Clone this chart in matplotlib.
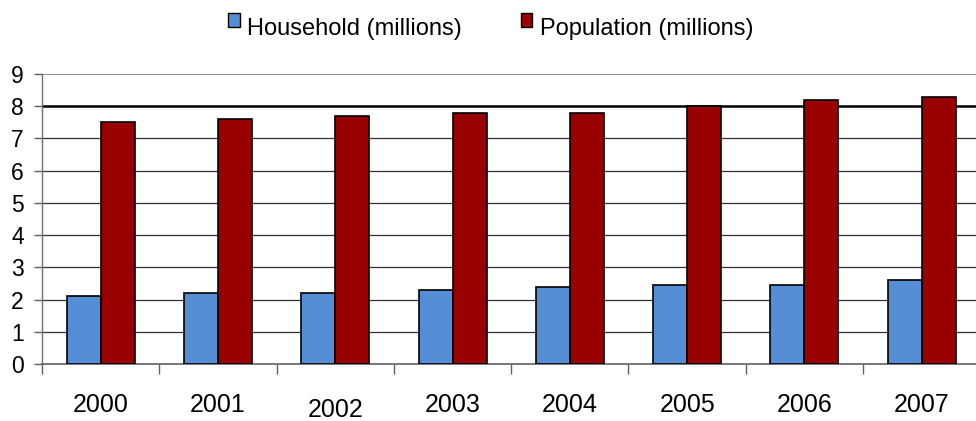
import numpy as np
import matplotlib
matplotlib.use('Agg')
import matplotlib.pyplot as plt
from matplotlib.patches import Patch, Rectangle
from matplotlib.legend_handler import HandlerPatch
import matplotlib.transforms as mtransforms

plt.rcParams['font.family'] = ['Liberation Sans', 'DejaVu Sans']

# data
years = ['2000', '2001', '2002', '2003', '2004', '2005', '2006', '2007']
household = [2.1, 2.2, 2.2, 2.3, 2.4, 2.45, 2.45, 2.6]
population = [7.5, 7.6, 7.7, 7.8, 7.8, 8.0, 8.2, 8.3]
series_names = ['Household (millions)', 'Population (millions)']
colors = ['#558ed5', '#990000']

fig = plt.figure(figsize=(9.76, 4.21), dpi=100)
ax = fig.add_axes([0.043, 0.1354, 0.957, 0.6888])

x = np.arange(len(years))
w = 0.29
ax.bar(x - w / 2, household, w, color=colors[0], edgecolor='black', linewidth=1.2, zorder=3)
ax.bar(x + w / 2, population, w, color=colors[1], edgecolor='black', linewidth=1.2, zorder=3)

ax.set_ylim(0, 9)
ax.set_xlim(-0.5, -0.5 + 934 / 117.3)
ax.set_yticks(range(10))

# gridlines: 1-7 thin dark, 8 heavy black, 9 light gray
for v in range(1, 8):
    ax.axhline(v, color='#303030', linewidth=0.9, zorder=1)
ax.axhline(8, color='black', linewidth=1.8, zorder=1)
ax.axhline(9, color='#8c8c8c', linewidth=1.4, zorder=1)

for s in ['top', 'right']:
    ax.spines[s].set_visible(False)
ax.spines['left'].set_color('#707070')
ax.spines['bottom'].set_color('#606060')
ax.spines['left'].set_linewidth(1.0)
ax.spines['bottom'].set_linewidth(1.2)

ax.tick_params(axis='y', length=6, width=1, color='#606060', pad=7, labelsize=16.5)

# category labels centered, tick marks between categories
ax.set_xticks(x)
ax.set_xticklabels(years)
ax.set_xticks(np.arange(len(years)) - 0.5, minor=True)
ax.tick_params(axis='x', which='major', length=0, pad=21, labelsize=18)
ax.tick_params(axis='x', which='minor', length=7, width=1, color='#606060')
lbl = ax.get_xticklabels()[2]
lbl.set_transform(lbl.get_transform() + mtransforms.ScaledTranslation(0, -5 / 100, fig.dpi_scale_trans))


# legend squares sit a little above the text centre
def raised_square(legend, orig_handle, xdescent, ydescent, width, height, fontsize):
    return Rectangle((-xdescent, -ydescent + 4.5), width, height)


handles = [Patch(facecolor=c, edgecolor='black', linewidth=1.0) for c in colors]
fig.legend(handles, series_names, loc='center', bbox_to_anchor=(0.5026, 1 - 28.5 / 421),
           ncol=2, frameon=False, fontsize=17, handlelength=0.5, handleheight=0.5,
           handletextpad=0.3, columnspacing=2.5,
           handler_map={Patch: HandlerPatch(patch_func=raised_square)})

fig.savefig('out.png', dpi=100)
